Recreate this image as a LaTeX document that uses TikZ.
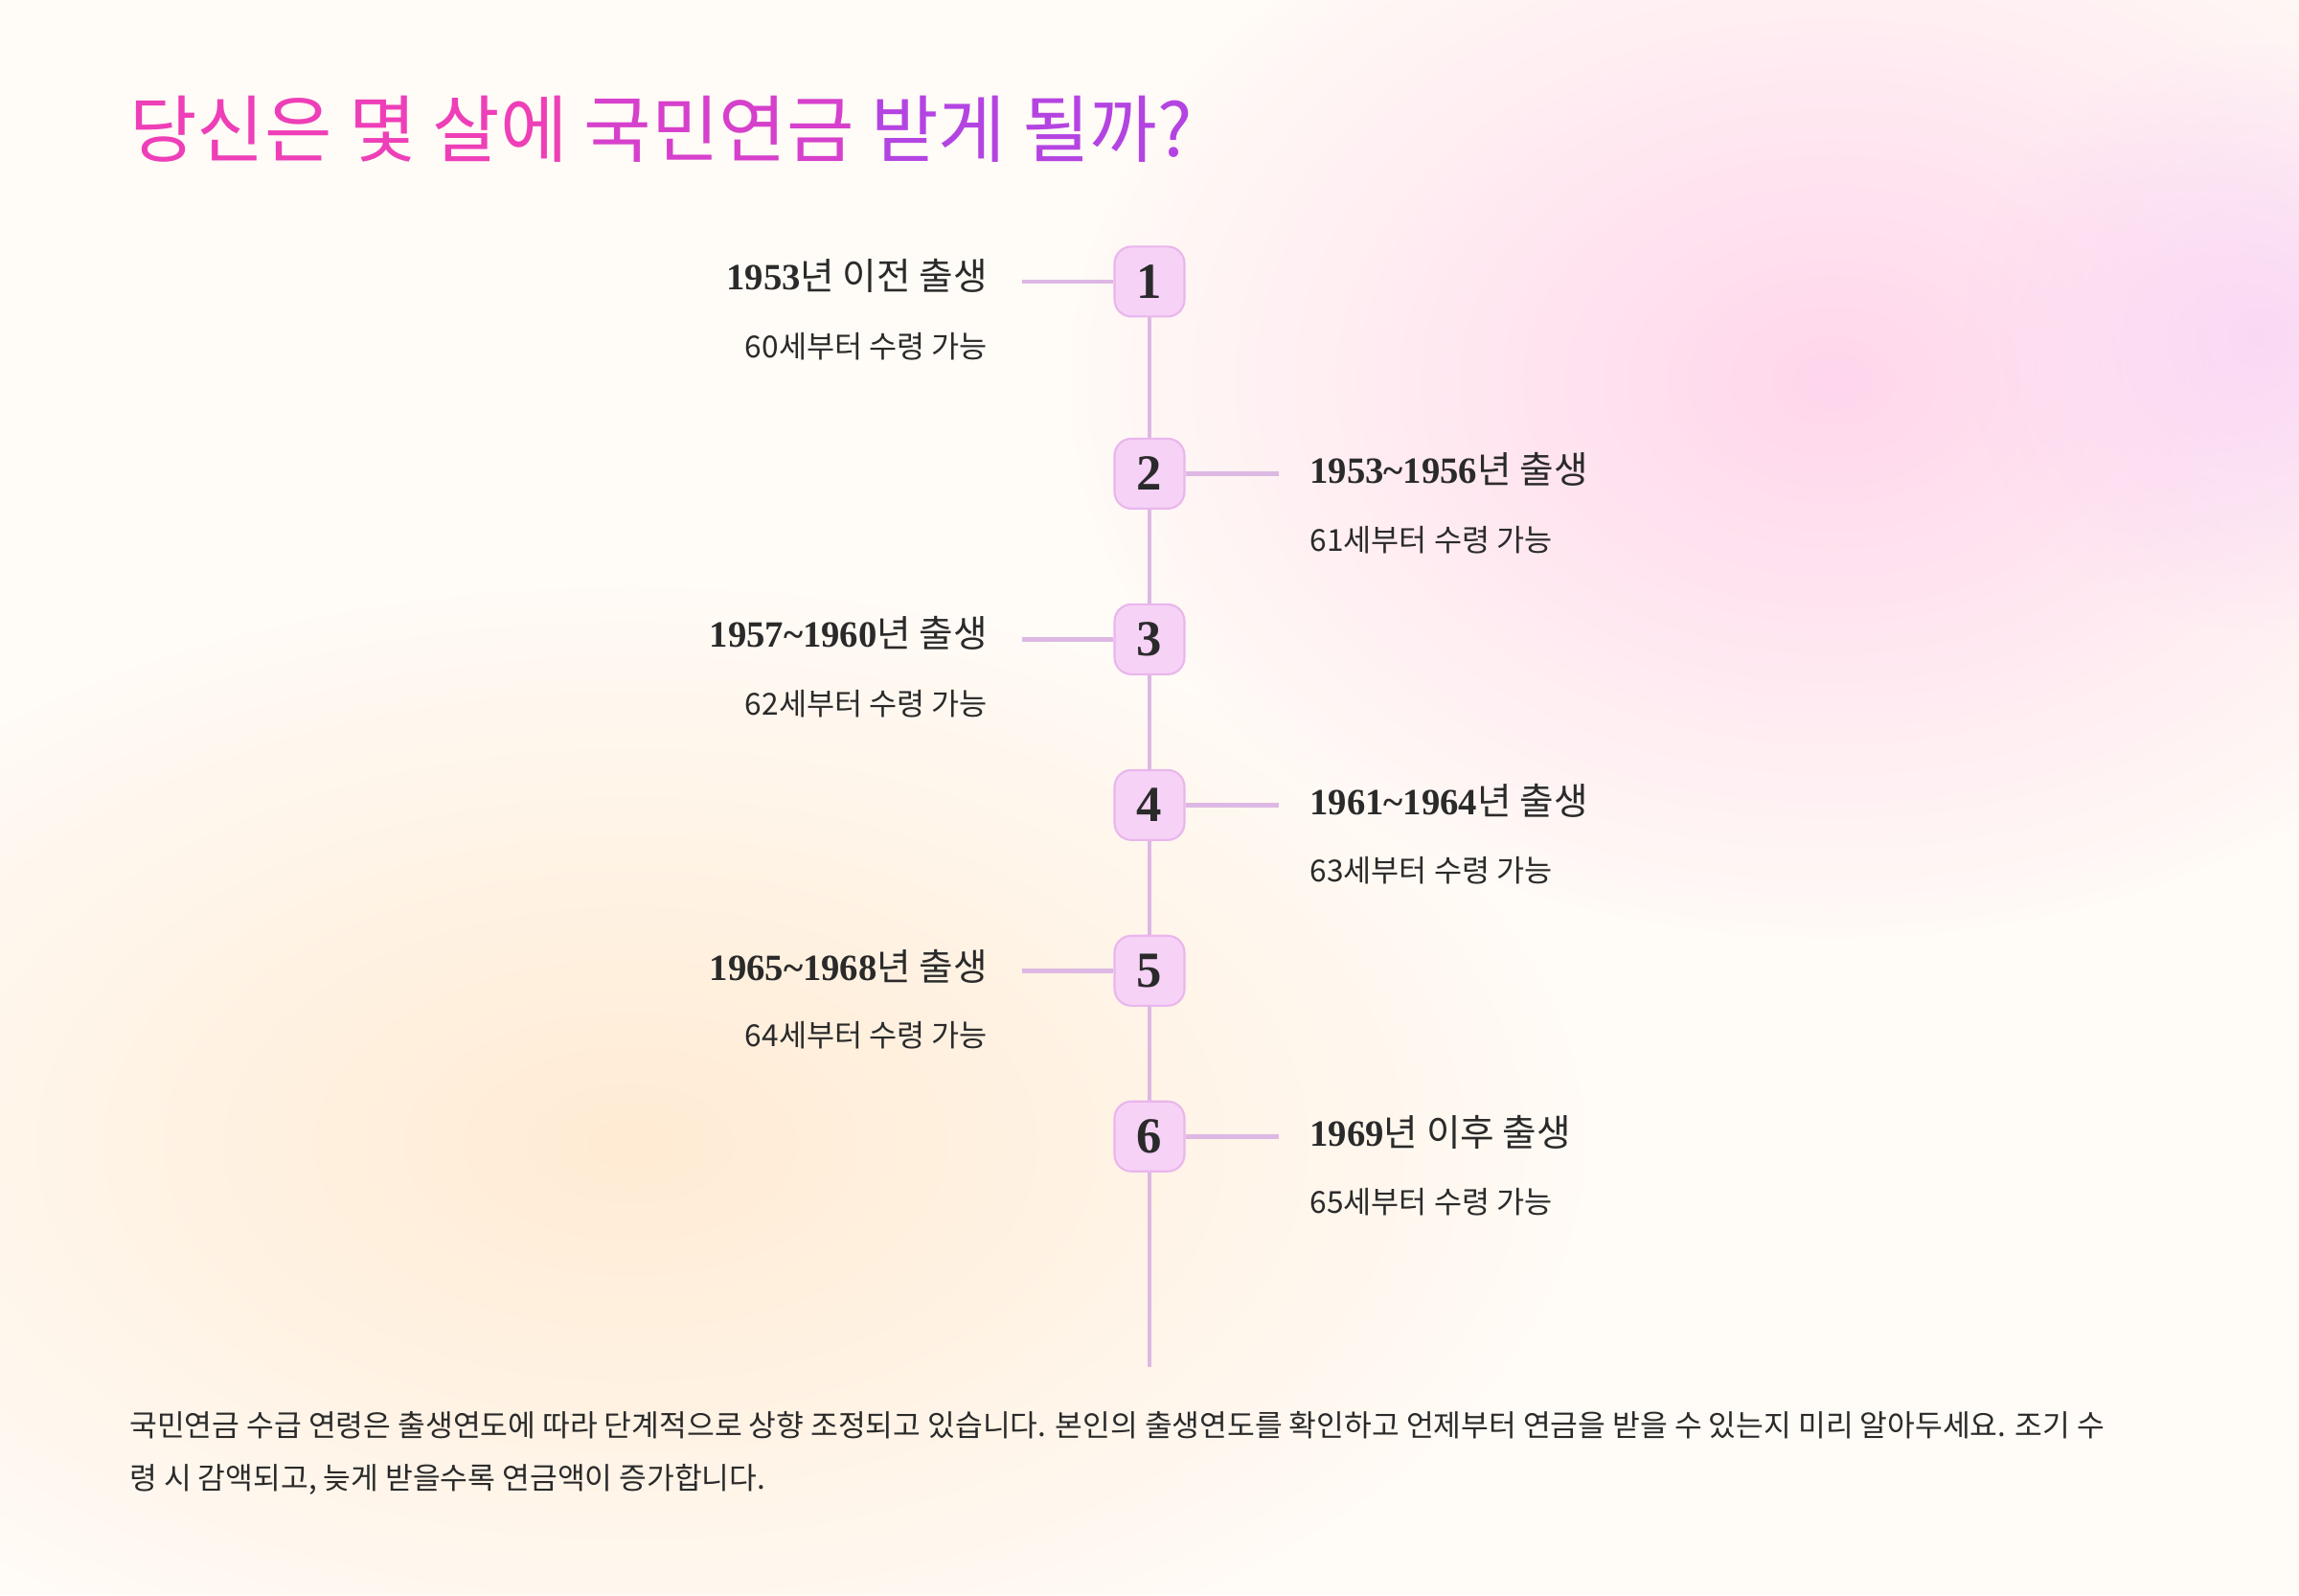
\documentclass[tikz,border=0pt]{standalone}
\usepackage{fontspec}
\setmainfont{Noto Sans CJK KR}
\newfontfamily\numf{Liberation Serif}
\usetikzlibrary{fadings}
\tikzfading[name=blobfade, inner color=transparent!0, outer color=transparent!100]
\definecolor{bgc}{HTML}{FFFBF6}
\definecolor{pinkblob}{HTML}{FFD6EC}
\definecolor{magblob}{HTML}{F8D4F6}
\definecolor{peachblob}{HTML}{FFE6C8}
\definecolor{boxfill}{HTML}{F6D2F6}
\definecolor{boxdraw}{HTML}{E9B6EC}
\definecolor{linec}{HTML}{DDB8E4}
\definecolor{txt}{HTML}{2A2A2A}
\definecolor{tA}{HTML}{EE3FB8}
\definecolor{tB}{HTML}{D640CC}
\definecolor{tC}{HTML}{B444E2}
\tikzset{
 numbox/.style={draw=boxdraw,fill=boxfill,rounded corners=5pt,minimum width=0.73cm,minimum height=0.73cm,inner sep=0pt,font=\numf\bfseries\fontsize{15}{15}\selectfont,text=txt,line width=0.6pt},
 conn/.style={draw=linec,line width=1.3pt},
 headL/.style={anchor=east,font=\fontsize{11}{13}\selectfont,text=txt,inner sep=0pt},
 headR/.style={anchor=west,font=\fontsize{11}{13}\selectfont,text=txt,inner sep=0pt},
 subL/.style={anchor=east,font=\fontsize{9}{11}\selectfont,text=txt,inner sep=0pt},
 subR/.style={anchor=west,font=\fontsize{9}{11}\selectfont,text=txt,inner sep=0pt},
}
\newcommand{\yr}[1]{{\numf\bfseries #1}}
\begin{document}
\begin{tikzpicture}[x=0.015306cm,y=-0.015306cm]
\useasboundingbox (0,0) rectangle (1568,1088);
\fill[bgc] (0,0) rectangle (1568,1088);
\begin{scope}
\clip (0,0) rectangle (1568,1088);
\fill[pinkblob,path fading=blobfade,fit fading=true] (1250,260) ellipse (520 and 380);
\fill[magblob,path fading=blobfade,fit fading=true,opacity=0.8] (1540,230) circle (200);
\fill[peachblob,path fading=blobfade,fit fading=true,opacity=0.75] (430,780) ellipse (650 and 380);
\end{scope}
\node[anchor=west,inner sep=0pt,font=\fontsize{21.8}{24}\selectfont] (title) at (88,88)
 {\textcolor{tA}{당신은 몇 살에} \textcolor{tB}{국민연금} \textcolor{tC}{받게 될까?}};
\coordinate (top) at (784,170);
\coordinate (bot) at (784,932);
\draw[conn] (top) -- (bot);
\node[numbox] (b1) at (784,192) {1};
\node[numbox] (b2) at (784,323) {2};
\node[numbox] (b3) at (784,436) {3};
\node[numbox] (b4) at (784,549) {4};
\node[numbox] (b5) at (784,662) {5};
\node[numbox] (b6) at (784,775) {6};
\coordinate (c1) at (697,192); \draw[conn] (c1) -- (b1.west);
\coordinate (c3) at (697,436); \draw[conn] (c3) -- (b3.west);
\coordinate (c5) at (697,662); \draw[conn] (c5) -- (b5.west);
\coordinate (c2) at (872,323); \draw[conn] (b2.east) -- (c2);
\coordinate (c4) at (872,549); \draw[conn] (b4.east) -- (c4);
\coordinate (c6) at (872,775); \draw[conn] (b6.east) -- (c6);
\node[headL] (h1) at (674,188) {\yr{1953}년 이전 출생};
\node[subL] (s1) at (674,236) {60세부터 수령 가능};
\node[headL] (h3) at (674,432) {\yr{1957\char126 1960}년 출생};
\node[subL] (s3) at (674,480) {62세부터 수령 가능};
\node[headL] (h5) at (674,659) {\yr{1965\char126 1968}년 출생};
\node[subL] (s5) at (674,706) {64세부터 수령 가능};
\node[headR] (h2) at (893,320) {\yr{1953\char126 1956}년 출생};
\node[subR] (s2) at (893,368) {61세부터 수령 가능};
\node[headR] (h4) at (893,546) {\yr{1961\char126 1964}년 출생};
\node[subR] (s4) at (893,594) {63세부터 수령 가능};
\node[headR] (h6) at (893,772) {\yr{1969}년 이후 출생};
\node[subR] (s6) at (893,820) {65세부터 수령 가능};
\node[anchor=north west,inner sep=0pt,align=left,text=txt,font=\fontsize{8.9}{15.7}\selectfont] (foot) at (88,962)
 {국민연금 수급 연령은 출생연도에 따라 단계적으로 상향 조정되고 있습니다. 본인의 출생연도를 확인하고 언제부터 연금을 받을 수 있는지 미리 알아두세요. 조기 수\\령 시 감액되고, 늦게 받을수록 연금액이 증가합니다.};
\end{tikzpicture}
\end{document}
